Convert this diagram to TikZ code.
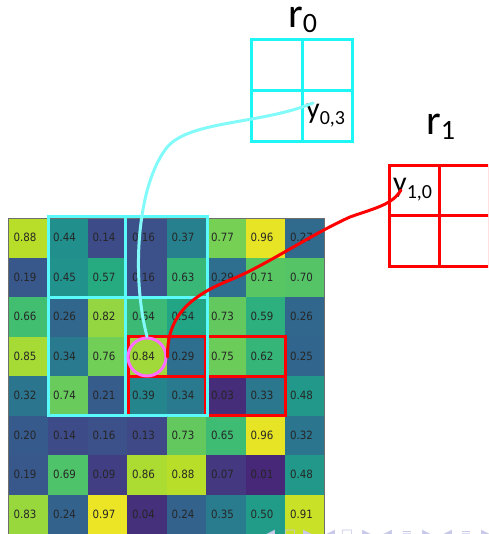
\documentclass[tikz,border=0pt]{standalone}
\usepackage{fontspec}
\setmainfont{Carlito}
\newfontfamily\cellfont[FakeStretch=0.9]{DejaVu Sans}
\newfontfamily\navfont{DejaVu Sans}
\definecolor{vir0}{RGB}{68,1,84}
\definecolor{vir1}{RGB}{72,36,117}
\definecolor{vir2}{RGB}{65,68,135}
\definecolor{vir3}{RGB}{53,95,141}
\definecolor{vir4}{RGB}{42,120,142}
\definecolor{vir5}{RGB}{33,145,140}
\definecolor{vir6}{RGB}{34,168,132}
\definecolor{vir7}{RGB}{68,191,112}
\definecolor{vir8}{RGB}{122,209,81}
\definecolor{vir9}{RGB}{189,223,38}
\definecolor{vir10}{RGB}{253,231,37}
\definecolor{cyanbox}{RGB}{30,245,245}
\definecolor{cyanreg}{RGB}{90,250,250}
\definecolor{cyancurve}{RGB}{130,250,250}
\definecolor{magc}{RGB}{255,110,255}
\definecolor{navc}{RGB}{200,200,232}
\definecolor{spine}{RGB}{110,110,110}
\newcommand\vircolor[1]{%
  \pgfmathsetmacro\myT{(0.1+0.9*#1)*10}%
  \pgfmathtruncatemacro\myI{min(floor(\myT),9)}%
  \pgfmathtruncatemacro\myF{round((\myT-\myI)*100)}%
  \pgfmathtruncatemacro\myJ{\myI+1}%
  \colorlet{cc}{vir\myJ!\myF!vir\myI}}
\tikzset{
  cell/.style={minimum width=39.5, minimum height=39.5, inner ysep=0, inner xsep=5,
    outer sep=0, text width=29.5, align=left,
    font=\cellfont\fontsize{11.4}{12}\selectfont, text=black!85},
  bincyan/.style={draw=cyanbox, line width=3, minimum size=50.5, inner sep=0},
  binred/.style={draw=red, line width=3, minimum size=50, inner sep=0},
  lab/.style={anchor=base west, inner sep=0, text=black},
  nav/.style={font=\navfont\fontsize{13}{13}\selectfont, text=navc, inner sep=0, anchor=base},
}
\begin{document}
\begin{tikzpicture}[x=1pt,y=-1pt]
\useasboundingbox (0,0) rectangle (488,534);
\clip (0,0) rectangle (488,534);
% heat map
\foreach \row [count=\r from 0] in {
 {0.88,0.44,0.14,0.16,0.37,0.77,0.96,0.27},
 {0.19,0.45,0.57,0.16,0.63,0.29,0.71,0.70},
 {0.66,0.26,0.82,0.64,0.54,0.73,0.59,0.26},
 {0.85,0.34,0.76,0.84,0.29,0.75,0.62,0.25},
 {0.32,0.74,0.21,0.39,0.34,0.03,0.33,0.48},
 {0.20,0.14,0.16,0.13,0.73,0.65,0.96,0.32},
 {0.19,0.69,0.09,0.86,0.88,0.07,0.01,0.48},
 {0.83,0.24,0.97,0.04,0.24,0.35,0.50,0.91}}{
  \foreach \v [count=\c from 0] in \row {
    \vircolor{\v}
    \node[cell, fill=cc] (m-\r-\c) at ({8.5+39.5*\c+19.75},{218+39.5*\r+19.75}) {\v};
  }
}
\draw[spine, line width=0.8] (8.5,540) -- (8.5,218) -- (324.5,218) -- (324.5,540);
% red region (drawn under cyan)
\draw[red, line width=3] (128.5,336.5) rectangle (285,415.5);
\draw[red, line width=3] (205,336.5) -- (205,415.5);
\draw[red, line width=3] (128.5,376) -- (285,376);
% cyan region
\draw[cyanreg, line width=3] (48,217) rectangle (207.5,415.5);
\draw[cyanreg, line width=3] (125.5,217) -- (125.5,415.5);
\draw[cyanreg, line width=3] (48,297) -- (207.5,297);
% highlighted element
\node[draw=magc, line width=3, circle, minimum size=38, inner sep=0] (hl) at (147,357) {};
% output r0
\node[bincyan] (r0a) at (277,65) {};
\node[bincyan] (r0b) at (327.5,65) {};
\node[bincyan] (r0c) at (277,116) {};
\node[bincyan] (r0d) at (327.5,116) {};
\node[lab] (r0lab) at (288,28) {\fontsize{42}{42}\selectfont r\raisebox{-5pt}{\fontsize{28}{28}\selectfont 0}};
\node[lab] (y03) at (306,119) {\fontsize{30}{30}\selectfont y\raisebox{-5.5pt}{\fontsize{20}{20}\selectfont 0,3}};
% output r1
\node[binred] (r1a) at (414,191) {};
\node[binred] (r1b) at (464,191) {};
\node[binred] (r1c) at (414,241) {};
\node[binred] (r1d) at (464,241) {};
\node[lab] (r1lab) at (426,135) {\fontsize{42}{42}\selectfont r\raisebox{-5pt}{\fontsize{28}{28}\selectfont 1}};
\node[lab] (y10) at (393,193) {\fontsize{30}{30}\selectfont y\raisebox{-5.5pt}{\fontsize{20}{20}\selectfont 1,0}};
% connectors
\coordinate (c03) at (313,103);
\coordinate (c10) at (401,190);
\draw[cyancurve, line width=3, line cap=round] (hl.north) .. controls (132,280) and (136,190) .. (165,150)
   .. controls (185,120) and (260,125) .. (c03);
\draw[red, line width=3, line cap=round] (hl.east) .. controls (167,320) and (185,298) .. (230,280)
   .. controls (265,266) and (310,235) .. (350,217)
   .. controls (375,208) and (392,205) .. (c10);
% navigation symbols
\foreach \x/\s [count=\i] in {270/◀,290/□,308/▶,330/◀,347/□,367/▶,387/◀,407/≡,427/▶,447/◀,466/≡,486/▶}{
  \node[nav] (nav\i) at (\x,538) {\s};
}
\end{tikzpicture}
\end{document}
